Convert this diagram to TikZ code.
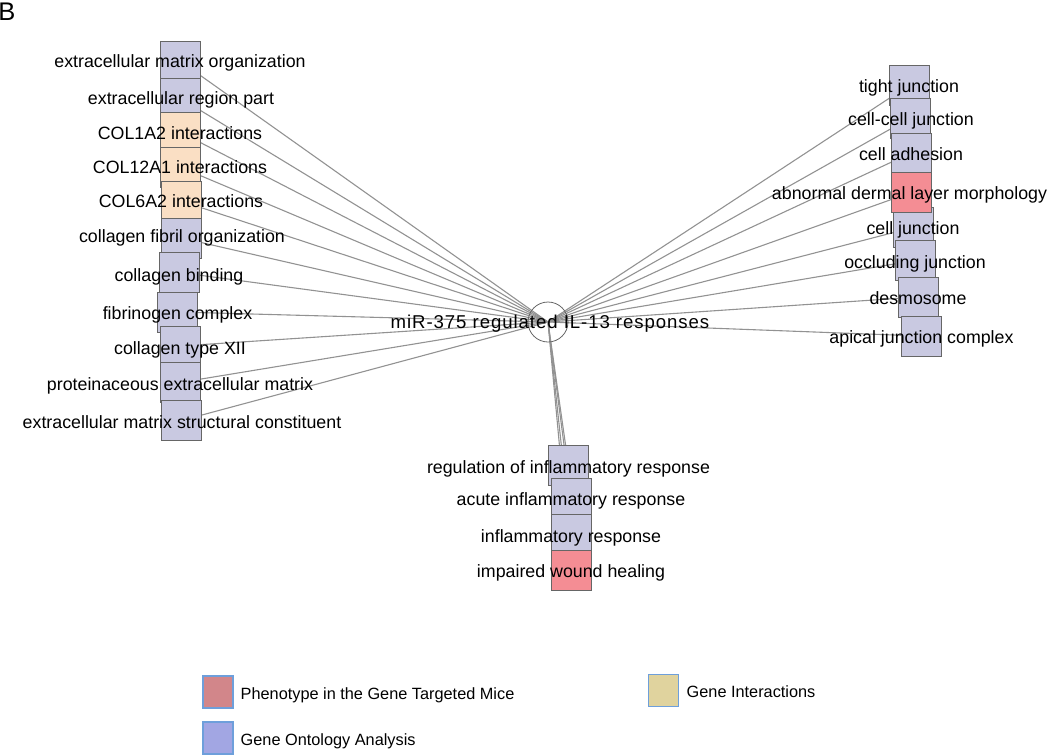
\documentclass[tikz,border=0pt]{standalone}
\usepackage{fontspec}
\setmainfont{Liberation Sans}
\newfontfamily\spacedfont[LetterSpace=5]{Liberation Sans}
\usetikzlibrary{backgrounds}
\definecolor{lav}{HTML}{C9C9E1}
\definecolor{peach}{HTML}{FADFC4}
\definecolor{pheno}{HTML}{F48D94}
\definecolor{boxline}{HTML}{666666}
\definecolor{edgecol}{HTML}{929292}
\definecolor{legred}{HTML}{D2868A}
\definecolor{legblue}{HTML}{A2A6E3}
\definecolor{legtan}{HTML}{E0D39E}
\definecolor{legline}{HTML}{6E9FDB}
\tikzset{
  gbox/.style={draw=boxline, line width=0.8pt, fill=lav, minimum width=40pt, minimum height=40pt, inner sep=0pt},
  ibox/.style={gbox, fill=peach},
  pbox/.style={gbox, fill=pheno},
  lab/.style={inner sep=0pt, anchor=base, font=\fontsize{17.8}{20}\selectfont},
  link/.style={draw=edgecol, line width=1.1pt},
  legbox/.style={draw=legline, line width=1.2pt, minimum width=30pt, minimum height=32pt, inner sep=0pt},
  legtext/.style={inner sep=0pt, anchor=base west, font=\fontsize{16.3}{18}\selectfont}
}
\begin{document}
\begin{tikzpicture}[x=1pt, y=-1pt]
\useasboundingbox (0,0) rectangle (1050,755);
\node[inner sep=0pt, anchor=base west, font=\fontsize{25.5}{28}\selectfont] (title) at (-1.8,20.5) {B};

% center
\node[circle, draw=boxline, line width=0.8pt, minimum size=40pt, inner sep=0pt] (c) at (548,322) {};

% left column boxes
\node[gbox] (L1) at (180,61) {};
\node[gbox] (L2) at (180,98) {};
\node[ibox] (L3) at (180,132) {};
\node[ibox] (L4) at (180,167) {};
\node[ibox] (L5) at (181,201) {};
\node[gbox] (L6) at (181.5,238) {};
\node[gbox] (L7) at (179.5,272.5) {};
\node[gbox] (L8) at (177.5,312) {};
\node[gbox] (L9) at (180,346) {};
\node[gbox] (L10) at (180,382.5) {};
\node[gbox] (L11) at (181.5,420.5) {};

% right column boxes
\node[gbox] (R1) at (909.5,85) {};
\node[gbox] (R2) at (910,118) {};
\node[gbox] (R3) at (911,153) {};
\node[gbox] (R5) at (913,227.5) {};
\node[pbox] (R4) at (911,192.5) {};
\node[gbox] (R6) at (915,260.5) {};
\node[gbox] (R7) at (918,297) {};
\node[gbox] (R8) at (921,336) {};

% bottom boxes
\node[gbox] (B1) at (568.5,465.5) {};
\node[gbox] (B2) at (571,498.5) {};
\node[gbox] (B3) at (571,534.5) {};
\node[pbox] (B4) at (571,570) {};

% edges
\begin{scope}[on background layer]
\foreach \n in {L1,L2,L3,L4,L5,L6,L7,L8,L9,L10,L11,R1,R2,R3,R4,R5,R6,R7,R8,B1,B2,B3,B4}
  \draw[link] (c.center) -- (\n.center);
\end{scope}

% labels
\node[lab] (tL1) at (180,67.3) {extracellular matrix organization};
\node[lab] (tL2) at (181,104.3) {extracellular region part};
\node[lab] (tL3) at (180,139.3) {COL1A2 interactions};
\node[lab] (tL4) at (180,173.3) {COL12A1 interactions};
\node[lab] (tL5) at (181,207.3) {COL6A2 interactions};
\node[lab] (tL6) at (182,242.3) {collagen fibril organization};
\node[lab] (tL7) at (179,281.3) {collagen binding};
\node[lab] (tL8) at (177.5,319.3) {fibrinogen complex};
\node[lab] (tL9) at (180,354.3) {collagen type XII};
\node[lab] (tL10) at (180,390.3) {proteinaceous extracellular matrix};
\node[lab] (tL11) at (182,428.3) {extracellular matrix structural constituent};

\node[lab] (tR1) at (909,92.3) {tight junction};
\node[lab] (tR2) at (911,125.3) {cell-cell junction};
\node[lab] (tR3) at (911,160.3) {cell adhesion};
\node[lab] (tR4) at (909.5,199.3) {abnormal dermal layer morphology};
\node[lab] (tR5) at (913,234.3) {cell junction};
\node[lab] (tR6) at (915,268.3) {occluding junction};
\node[lab] (tR7) at (918,304.3) {desmosome};
\node[lab] (tR8) at (921.5,343.3) {apical junction complex};

\node[lab] (tB1) at (568.5,473.3) {regulation of inflammatory response};
\node[lab] (tB2) at (571,505.3) {acute inflammatory response};
\node[lab] (tB3) at (571,542.3) {inflammatory response};
\node[lab] (tB4) at (571,577.3) {impaired wound healing};

\node[inner sep=0pt, anchor=base, font=\spacedfont\fontsize{18.6}{21}\selectfont] (tc) at (550,328.8) {miR-375 regulated IL-13 responses};

% legend
\node[legbox, fill=legred] (k1) at (218,692) {};
\node[legtext] (k1t) at (240.5,699) {Phenotype in the Gene Targeted Mice};
\node[legbox, fill=legblue] (k2) at (218,738) {};
\node[legtext] (k2t) at (240.5,745) {Gene Ontology Analysis};
\node[legbox, fill=legtan] (k3) at (663.5,690.5) {};
\node[legtext] (k3t) at (686.5,697.5) {Gene Interactions};
\end{tikzpicture}
\end{document}
